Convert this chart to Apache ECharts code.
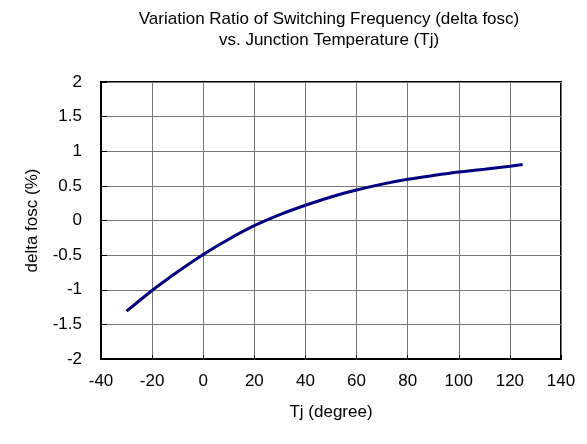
<!DOCTYPE html>
<html>
<head>
<meta charset="utf-8">
<script src="https://cdn.jsdelivr.net/npm/echarts@6/dist/echarts.min.js"></script>
<style>html,body{margin:0;padding:0;background:#fff;}#c{width:587px;height:444px;}</style>
</head>
<body>
<div id="c"></div>
<script>
const tj = [-30, -20, -10, 0, 10, 20, 30, 40, 50, 60, 70, 80, 90, 100, 110, 120, 125];
const deltaFosc = [-1.31, -1.01, -0.74, -0.49, -0.27, -0.075, 0.085, 0.22, 0.34, 0.44, 0.525, 0.595, 0.65, 0.70, 0.74, 0.785, 0.81];
const titleLines = ['Variation Ratio of Switching Frequency (delta fosc)', 'vs. Junction Temperature (Tj)'];

const chart = echarts.init(document.getElementById('c'), null, {renderer: 'canvas'});
const font = 'Liberation Sans, Arial, sans-serif';
chart.setOption({
  animation: false,
  backgroundColor: '#fff',
  title: {
    text: titleLines.join('\n'),
    left: 324, top: 4, textAlign: 'center',
    textStyle: {fontFamily: font, fontSize: 17, fontWeight: 'normal', color: '#000', lineHeight: 21}
  },
  grid: {left: 101, right: 26, top: 82, bottom: 85, show: true, borderColor: '#000', borderWidth: 2, backgroundColor: 'transparent'},
  xAxis: {
    type: 'value', min: -40, max: 140, interval: 20,
    name: 'Tj (degree)', nameLocation: 'middle', nameGap: 45,
    nameTextStyle: {fontFamily: font, fontSize: 17, color: '#000'},
    axisLine: {show: true, onZero: false, lineStyle: {color: '#000', width: 2}},
    axisTick: {show: true, inside: true, length: 4, lineStyle: {color: '#000'}},
    axisLabel: {fontFamily: font, fontSize: 17, color: '#000', margin: 14},
    splitLine: {show: true, lineStyle: {color: '#777', width: 1}}
  },
  yAxis: {
    type: 'value', min: -2, max: 2, interval: 0.5,
    name: 'delta fosc (%)', nameLocation: 'middle', nameGap: 60, nameRotate: 90,
    nameTextStyle: {fontFamily: font, fontSize: 17, color: '#000'},
    axisLine: {show: true, onZero: false, lineStyle: {color: '#000', width: 2}},
    axisTick: {show: true, inside: true, length: 6, lineStyle: {color: '#000'}},
    axisLabel: {fontFamily: font, fontSize: 17, color: '#000', margin: 19},
    splitLine: {show: true, lineStyle: {color: '#777', width: 1}}
  },
  series: [{
    type: 'line',
    data: tj.map((t, i) => [t, deltaFosc[i]]),
    smooth: 0.3,
    showSymbol: false,
    lineStyle: {color: '#000080', width: 3},
    itemStyle: {color: '#000080'}
  }]
});
</script>
</body>
</html>
